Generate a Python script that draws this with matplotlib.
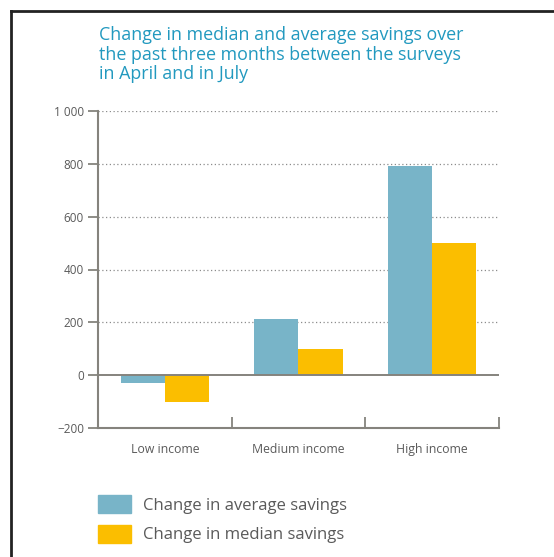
import matplotlib.pyplot as plt
from matplotlib.lines import Line2D
from matplotlib.patches import Patch
import numpy as np

plt.rcParams['font.family'] = ['Open Sans', 'DejaVu Sans']

categories = ["Low income", "Medium income", "High income"]
avg_change = [-30, 212, 790]
median_change = [-102, 100, 502]
yticks = [-200, 0, 200, 400, 600, 800, 1000]
ytick_labels = ["\u2212200", "0", "200", "400", "600", "800", "1 000"]

blue = "#78b4c8"
yellow = "#fbbe00"
grey = "#85837d"
text_grey = "#5a5a5a"

fig = plt.figure(figsize=(5.54, 5.57), dpi=100)
ax = fig.add_axes([98 / 554, 1 - 428 / 557, 401 / 554, 317 / 557])

x = np.arange(len(categories))
w = 0.33
ax.bar(x - w / 2, avg_change, width=w, color=blue, zorder=3)
ax.bar(x + w / 2, median_change, width=w, color=yellow, zorder=3)

ax.set_xlim(-0.5, 2.5)
ax.set_ylim(-200, 1000)

# dotted grid above zero, solid zero line
for v in yticks:
    if v > 0:
        ax.axhline(v, color="#8c8c8c", lw=0.9, ls=(0, (1, 2)), zorder=1)
ax.axhline(0, color=grey, lw=1.4, zorder=4)

ax.set_yticks(yticks)
ax.set_yticklabels(ytick_labels)
ax.tick_params(axis="y", direction="out", length=7, width=1.3, color=grey,
               labelsize=8.5, labelcolor=text_grey, pad=3)

# category labels, separators as inward ticks
ax.set_xticks([0.5, 1.5, 2.5])
ax.set_xticklabels([])
ax.tick_params(axis="x", direction="in", length=8, width=1.3, color=grey)
ax.set_xticks(x, minor=True)
ax.set_xticklabels(categories, minor=True)
ax.tick_params(axis="x", which="minor", length=0, labelsize=8.8,
               labelcolor=text_grey, pad=10.5)

for s in ["top", "right"]:
    ax.spines[s].set_visible(False)
for s in ["left", "bottom"]:
    ax.spines[s].set_color(grey)
    ax.spines[s].set_linewidth(1.5)

fig.text(99 / 554, 1 - 26 / 557,
         "Change in median and average savings over\nthe past three months between the surveys\nin April and in July",
         color="#2299bf", fontsize=12.9, va="top", ha="left", linespacing=1.12)

handles = [Patch(color=blue), Patch(color=yellow)]
fig.legend(handles, ["Change in average savings", "Change in median savings"],
           loc="upper left", bbox_to_anchor=(98 / 554, 1 - 495 / 557),
           frameon=False, fontsize=12, labelcolor=text_grey,
           handlelength=2.0, handleheight=1.3, handletextpad=0.7,
           labelspacing=0.65, borderpad=0, borderaxespad=0)

# black frame edges at top and left
fig.add_artist(Line2D([11 / 554, 1], [1 - 11 / 557, 1 - 11 / 557],
                      color="#222222", lw=2, transform=fig.transFigure))
fig.add_artist(Line2D([11 / 554, 11 / 554], [0, 1 - 11 / 557],
                      color="#222222", lw=2, transform=fig.transFigure))

fig.savefig("out.png", dpi=100)
